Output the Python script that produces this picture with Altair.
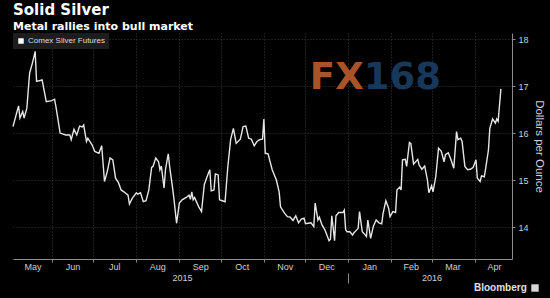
import altair as alt
import pandas as pd

# ---------------- data ----------------
series_name = "Comex Silver Futures"

dates = [
    "2015-05-04", "2015-05-08", "2015-05-09", "2015-05-11", "2015-05-12", "2015-05-14",
    "2015-05-16", "2015-05-18", "2015-05-20", "2015-05-21", "2015-05-25", "2015-05-28",
    "2015-06-01", "2015-06-03", "2015-06-04", "2015-06-07", "2015-06-11", "2015-06-14",
    "2015-06-15", "2015-06-17", "2015-06-19", "2015-06-21", "2015-06-23", "2015-06-24",
    "2015-06-26", "2015-06-27", "2015-06-30", "2015-07-02", "2015-07-05", "2015-07-07",
    "2015-07-09", "2015-07-11", "2015-07-13", "2015-07-15", "2015-07-17", "2015-07-19",
    "2015-07-21", "2015-07-23", "2015-07-26", "2015-07-27", "2015-07-29", "2015-08-01",
    "2015-08-02", "2015-08-04", "2015-08-06", "2015-08-08", "2015-08-10", "2015-08-12",
    "2015-08-13", "2015-08-15", "2015-08-17", "2015-08-18", "2015-08-19", "2015-08-21",
    "2015-08-22", "2015-08-24", "2015-08-25", "2015-08-27", "2015-08-28", "2015-08-30",
    "2015-09-01", "2015-09-03", "2015-09-06", "2015-09-08", "2015-09-09", "2015-09-10",
    "2015-09-11", "2015-09-12", "2015-09-15", "2015-09-17", "2015-09-19", "2015-09-21",
    "2015-09-23", "2015-09-24", "2015-09-26", "2015-09-27", "2015-09-29", "2015-09-30",
    "2015-10-02", "2015-10-04", "2015-10-06", "2015-10-08", "2015-10-10", "2015-10-12",
    "2015-10-15", "2015-10-17", "2015-10-19", "2015-10-21", "2015-10-23", "2015-10-25",
    "2015-10-27", "2015-10-29", "2015-10-31", "2015-11-01", "2015-11-02", "2015-11-04",
    "2015-11-07", "2015-11-10", "2015-11-12", "2015-11-13", "2015-11-16", "2015-11-18",
    "2015-11-20", "2015-11-22", "2015-11-24", "2015-11-26", "2015-11-28", "2015-11-30",
    "2015-12-01", "2015-12-03", "2015-12-05", "2015-12-07", "2015-12-08", "2015-12-10",
    "2015-12-11", "2015-12-13", "2015-12-15", "2015-12-18", "2015-12-19", "2015-12-20",
    "2015-12-22", "2015-12-23", "2015-12-25", "2015-12-28", "2015-12-29", "2015-12-30",
    "2015-12-31", "2016-01-02", "2016-01-04", "2016-01-05", "2016-01-07", "2016-01-08",
    "2016-01-09", "2016-01-11", "2016-01-12", "2016-01-14", "2016-01-15", "2016-01-17",
    "2016-01-19", "2016-01-21", "2016-01-23", "2016-01-25", "2016-01-26", "2016-01-28",
    "2016-01-30", "2016-01-31", "2016-02-02", "2016-02-04", "2016-02-05", "2016-02-07",
    "2016-02-08", "2016-02-09", "2016-02-11", "2016-02-12", "2016-02-14", "2016-02-15",
    "2016-02-17", "2016-02-20", "2016-02-21", "2016-02-23", "2016-02-25", "2016-02-27",
    "2016-02-28", "2016-03-01", "2016-03-02", "2016-03-04", "2016-03-06", "2016-03-08",
    "2016-03-10", "2016-03-11", "2016-03-13", "2016-03-15", "2016-03-17", "2016-03-19",
    "2016-03-20", "2016-03-22", "2016-03-23", "2016-03-25", "2016-03-27", "2016-03-29",
    "2016-03-31", "2016-04-02", "2016-04-03", "2016-04-05", "2016-04-06", "2016-04-08",
    "2016-04-09", "2016-04-11", "2016-04-12", "2016-04-14", "2016-04-16", "2016-04-17",
    "2016-04-18", "2016-04-20",
]

prices = [
    16.14, 16.58, 16.32, 16.46, 16.32, 16.53,
    17.28, 17.49, 17.74, 17.10, 17.13, 16.67,
    16.69, 16.72, 16.56, 16.00, 15.96, 15.96,
    15.86, 16.08, 15.96, 16.15, 16.13, 16.17,
    15.82, 15.89, 15.75, 15.61, 15.57, 15.73,
    14.97, 15.18, 15.47, 15.43, 15.04, 14.95,
    14.79, 14.75, 14.68, 14.49, 14.61, 14.73,
    14.70, 14.73, 14.54, 14.56, 14.79, 15.27,
    15.29, 15.47, 15.39, 15.22, 15.30, 14.83,
    15.22, 15.56, 15.29, 14.86, 14.63, 14.08,
    14.51, 14.58, 14.63, 14.68, 14.59, 14.75,
    14.58, 14.63, 14.43, 14.33, 14.90, 15.07,
    15.22, 14.77, 14.79, 15.13, 15.11, 14.58,
    14.56, 14.54, 15.29, 15.86, 16.10, 15.78,
    15.87, 16.14, 16.15, 15.89, 15.87, 15.73,
    15.82, 15.86, 15.87, 16.30, 15.57, 15.56,
    15.22, 15.00, 14.75, 14.43, 14.29, 14.22,
    14.21, 14.14, 14.24, 14.09, 14.17, 14.19,
    14.07, 14.08, 14.09, 14.01, 14.51, 14.15,
    14.21, 14.04, 13.94, 13.71, 13.74, 14.24,
    13.71, 14.24, 14.31, 14.31, 14.36, 13.94,
    13.90, 13.90, 13.83, 13.88, 13.94, 13.97,
    14.33, 13.90, 13.87, 13.80, 14.15, 13.76,
    14.02, 14.15, 14.09, 14.07, 14.29, 14.56,
    14.40, 14.22, 14.33, 14.31, 14.79, 14.85,
    14.79, 15.43, 15.44, 15.29, 15.80, 15.78,
    15.34, 15.44, 15.32, 15.23, 15.30, 15.00,
    14.73, 14.88, 14.75, 15.07, 15.68, 15.61,
    15.39, 15.54, 15.58, 15.43, 15.25, 16.03,
    15.86, 15.89, 15.82, 15.29, 15.22, 15.23,
    15.27, 15.43, 15.04, 14.97, 15.09, 15.07,
    15.25, 15.64, 16.10, 16.30, 16.21, 16.30,
    16.25, 16.94,
]

x_domain = ["2015-05-04", "2016-04-28"]
y_domain = [13.32, 18.13]
y_ticks = [14, 15, 16, 17, 18]

month_starts = [
    "2015-06-01", "2015-07-01", "2015-08-01", "2015-09-01", "2015-10-01", "2015-11-01",
    "2015-12-01", "2016-01-01", "2016-02-01", "2016-03-01", "2016-04-01",
]
month_label_dates = [
    "2015-05-18", "2015-06-16", "2015-07-16", "2015-08-16", "2015-09-16", "2015-10-16",
    "2015-11-16", "2015-12-16", "2016-01-16", "2016-02-15", "2016-03-16", "2016-04-15",
]
year_label_dates = ["2015-09-03", "2016-03-01"]
year_break_dates = ["2016-01-01"]

watermark_date = "2016-01-12"
watermark_price = 17.17

title_text = "Solid Silver"
subtitle_text = "Metal rallies into bull market"
y_title = "Dollars per Ounce"
footer_text = ["Bloomberg"]

# ---------------- helpers ----------------
def dt(s):
    y, m, d = (int(p) for p in s.split("-"))
    return alt.DateTime(year=y, month=m, date=d, utc=True)


AXIS_FONT = "Liberation Sans"
LABEL_COLOR = "#cfcfcf"

df = pd.DataFrame({"date": dates, "price": prices, "series": series_name})

x_scale = alt.Scale(domain=[dt(s) for s in x_domain], nice=False)
y_scale = alt.Scale(domain=y_domain, nice=False, zero=False)

# main line + month-start ticks/grid + right axis
line = alt.Chart(df).mark_line(strokeWidth=1.4).encode(
    x=alt.X(
        "date:T",
        scale=x_scale,
        axis=alt.Axis(
            orient="bottom", values=[dt(s) for s in month_starts], labels=False,
            ticks=True, tickSize=3, grid=True, domain=True, title=None,
        ),
    ),
    y=alt.Y(
        "price:Q",
        scale=y_scale,
        axis=alt.Axis(
            orient="right", values=y_ticks, title=y_title, grid=True, ticks=True,
            tickSize=3, labelPadding=3, titlePadding=5, format="d",
        ),
    ),
    color=alt.Color(
        "series:N",
        scale=alt.Scale(range=["#e6e6e6"]),
        legend=alt.Legend(
            title=None, orient="top-left", offset=0, padding=4,
            fillColor="#1d1d1d", symbolType="square", symbolSize=30,
            symbolFillColor="#ffffff", symbolStrokeColor="#ffffff", symbolStrokeWidth=0,
            labelFont=AXIS_FONT, labelFontSize=8, labelColor="#dddddd", labelOffset=3,
        ),
    ),
)

# month names centred in each month
month_labels = alt.Chart(df).mark_point(opacity=0).encode(
    x=alt.X(
        "date:T",
        axis=alt.Axis(
            orient="bottom", values=[dt(s) for s in month_label_dates], format="%b",
            ticks=False, grid=False, domain=False, labelPadding=3, title=None,
            labelFlush=False, labelOverlap=False,
        ),
    ),
    y=alt.Y("price:Q"),
)

# year names
year_labels = alt.Chart(df).mark_point(opacity=0).encode(
    x=alt.X(
        "date:T",
        axis=alt.Axis(
            orient="bottom", values=[dt(s) for s in year_label_dates], format="%Y",
            ticks=False, grid=False, domain=False, labelPadding=14, title=None,
            labelFlush=False, labelOverlap=False,
        ),
    ),
    y=alt.Y("price:Q"),
)

# year separator tick
year_break = alt.Chart(df).mark_point(opacity=0).encode(
    x=alt.X(
        "date:T",
        axis=alt.Axis(
            orient="bottom", values=[dt(s) for s in year_break_dates], labels=False,
            ticks=True, tickSize=10, offset=14, grid=False, domain=False, title=None,
        ),
    ),
    y=alt.Y("price:Q"),
)

# watermark
wm_df = pd.DataFrame({"date": [watermark_date], "price": [watermark_price],
                      "a": ["FX"], "b": ["168"]})
wm_fx = alt.Chart(wm_df).mark_text(
    font="DejaVu Sans", fontWeight="bold", fontSize=37, color="#a9532a",
    align="right", baseline="middle",
).encode(x=alt.X("date:T", axis=None), y=alt.Y("price:Q"), text="a:N")
wm_168 = alt.Chart(wm_df).mark_text(
    font="DejaVu Sans", fontWeight="bold", fontSize=37, color="#17385a",
    align="left", baseline="middle",
).encode(x=alt.X("date:T", axis=None), y=alt.Y("price:Q"), text="b:N")

# footer
foot_df = pd.DataFrame({"label": footer_text})
footer = alt.Chart(foot_df).mark_text(
    font=AXIS_FONT, fontWeight="bold", fontSize=10, color="#e0e0e0",
    align="left", baseline="middle",
).encode(text="label:N", x=alt.value(461), y=alt.value(255))
footer_icon = alt.Chart(foot_df).mark_square(
    size=55, color="#d8d8d8", opacity=1,
).encode(x=alt.value(522), y=alt.value(255))

chart = (
    alt.layer(line, wm_fx, wm_168, month_labels, year_labels, year_break, footer, footer_icon)
    .resolve_axis(x="independent")
    .properties(
        width=499,
        height=226,
        background="#000000",
        padding={"left": 13, "top": 33, "right": 38, "bottom": 39},
        autosize=alt.AutoSizeParams(type="none"),
        title=alt.TitleParams(
            text=title_text,
            subtitle=subtitle_text,
            anchor="start",
            frame="group",
            font="DejaVu Sans",
            fontSize=15,
            fontWeight="bold",
            color="#ffffff",
            subtitleFont="DejaVu Sans",
            subtitleFontSize=11,
            subtitleFontWeight="bold",
            subtitleColor="#ffffff",
            subtitlePadding=3,
            offset=1.5,
        ),
    )
    .configure_view(stroke=None)
    .configure_axis(
        labelFont=AXIS_FONT,
        labelFontSize=9,
        labelColor=LABEL_COLOR,
        titleFont=AXIS_FONT,
        titleFontSize=11.5,
        titleFontWeight="normal",
        titleColor=LABEL_COLOR,
        domainColor="#8c8c8c",
        tickColor="#8c8c8c",
        gridColor="#3a3a3a",
        gridDash=[1, 2],
        gridWidth=1,
    )
)

chart.save("out.html", embed_options={"renderer": "svg", "actions": False})
